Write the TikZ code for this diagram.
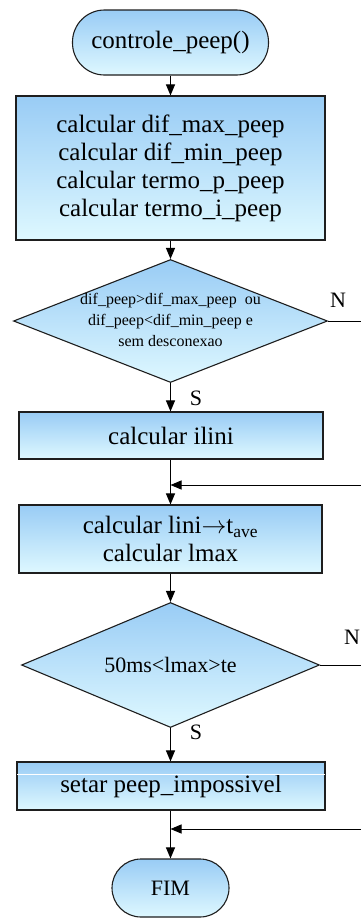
\documentclass[tikz,border=0pt]{standalone}
\usepackage{fontspec}
\setmainfont{Liberation Serif}
\usetikzlibrary{shapes.geometric,arrows.meta}
\definecolor{topblue}{RGB}{153,204,245}
\definecolor{botblue}{RGB}{222,248,255}
\definecolor{edgegray}{RGB}{30,30,30}
\begin{document}
\begin{tikzpicture}[x=1pt,y=-1pt,
  fillgrad/.style={top color=topblue,bottom color=botblue,draw=edgegray,line width=1.1pt},
  term/.style={fillgrad,rectangle,rounded corners=#1,inner sep=0pt,font=\fontsize{25}{28}\selectfont},
  procbox/.style={fillgrad,rectangle,inner sep=0pt,align=center,font=\fontsize{25}{28}\selectfont},
  decis/.style={fillgrad,diamond,inner sep=0pt},
  lbl/.style={font=\fontsize{22}{26}\selectfont,inner sep=0pt},
  flow/.style={line width=1pt,-{Triangle[length=11pt,width=9pt]}},
  plain/.style={line width=1pt}
]
\useasboundingbox (0,0) rectangle (361,919);
% nodes
\node[term=32pt,minimum width=196pt,minimum height=65pt] (start) at (170.5,42.5) {controle\_peep()};
\node[procbox,minimum width=309pt,minimum height=144pt] (box1) at (170.5,168)
  {calcular dif\_max\_peep\\calcular dif\_min\_peep\\calcular termo\_p\_peep\\calcular termo\_i\_peep};
\node[decis,minimum width=314pt,minimum height=123pt] (d1) at (170.5,321) {};
\node[align=center,inner sep=0pt,font=\fontsize{16}{21}\selectfont] (d1t) at (170.5,320)
  {dif\_peep>dif\_max\_peep\ \ ou\\dif\_peep<dif\_min\_peep e\\sem desconexao};
\node[procbox,minimum width=304pt,minimum height=47pt] (box2) at (171,435.5) {calcular ilini};
\node[procbox,minimum width=303pt,minimum height=68pt] (box3) at (170.5,539)
  {calcular lini$\rightarrow$t\textsubscript{ave}\\calcular lmax};
\node[decis,minimum width=298pt,minimum height=125pt] (d2) at (170.5,665) {};
\node[inner sep=0pt,font=\fontsize{22}{26}\selectfont] (d2t) at (170.5,665) {50ms<lmax>te};
\node[procbox,minimum width=308pt,minimum height=48pt] (box4) at (171,786) {setar peep\_impossivel};
\draw[white,line width=1pt] ([xshift=1pt,yshift=-13pt]box4.north west) -- ([xshift=-1pt,yshift=-13pt]box4.north east);
\node[term=29pt,minimum width=117pt,minimum height=58pt,font=\fontsize{22}{26}\selectfont] (fim) at (170.5,888) {FIM};
% labels
\node[lbl] (n1) at (338,300) {N};
\node[lbl] (s1) at (196,398) {S};
\node[lbl] (n2) at (352,637) {N};
\node[lbl] (s2) at (196,732) {S};
% coordinates
\coordinate (j1) at (170.5,485);
\coordinate (j2) at (170.5,829);
\coordinate (r1) at (361,321);
\coordinate (r2) at (361,485);
\coordinate (r3) at (361,665);
\coordinate (r4) at (361,829);
% connectors
\draw[flow] (start) -- (box1);
\draw[flow] (box1) -- (d1.north);
\draw[flow] (d1.south) -- (box2.north -| d1.south);
\draw[plain] (d1.east) -- (r1);
\draw[flow] (box2.south -| d1.south) -- (box3.north -| d1.south);
\draw[flow] (r2) -- (j1);
\draw[flow] (box3.south -| d1.south) -- (d2.north);
\draw[plain] (d2.east) -- (r3);
\draw[flow] (d2.south) -- (box4.north -| d2.south);
\draw[flow] (box4.south -| d2.south) -- (fim.north);
\draw[flow] (r4) -- (j2);
\end{tikzpicture}
\end{document}
